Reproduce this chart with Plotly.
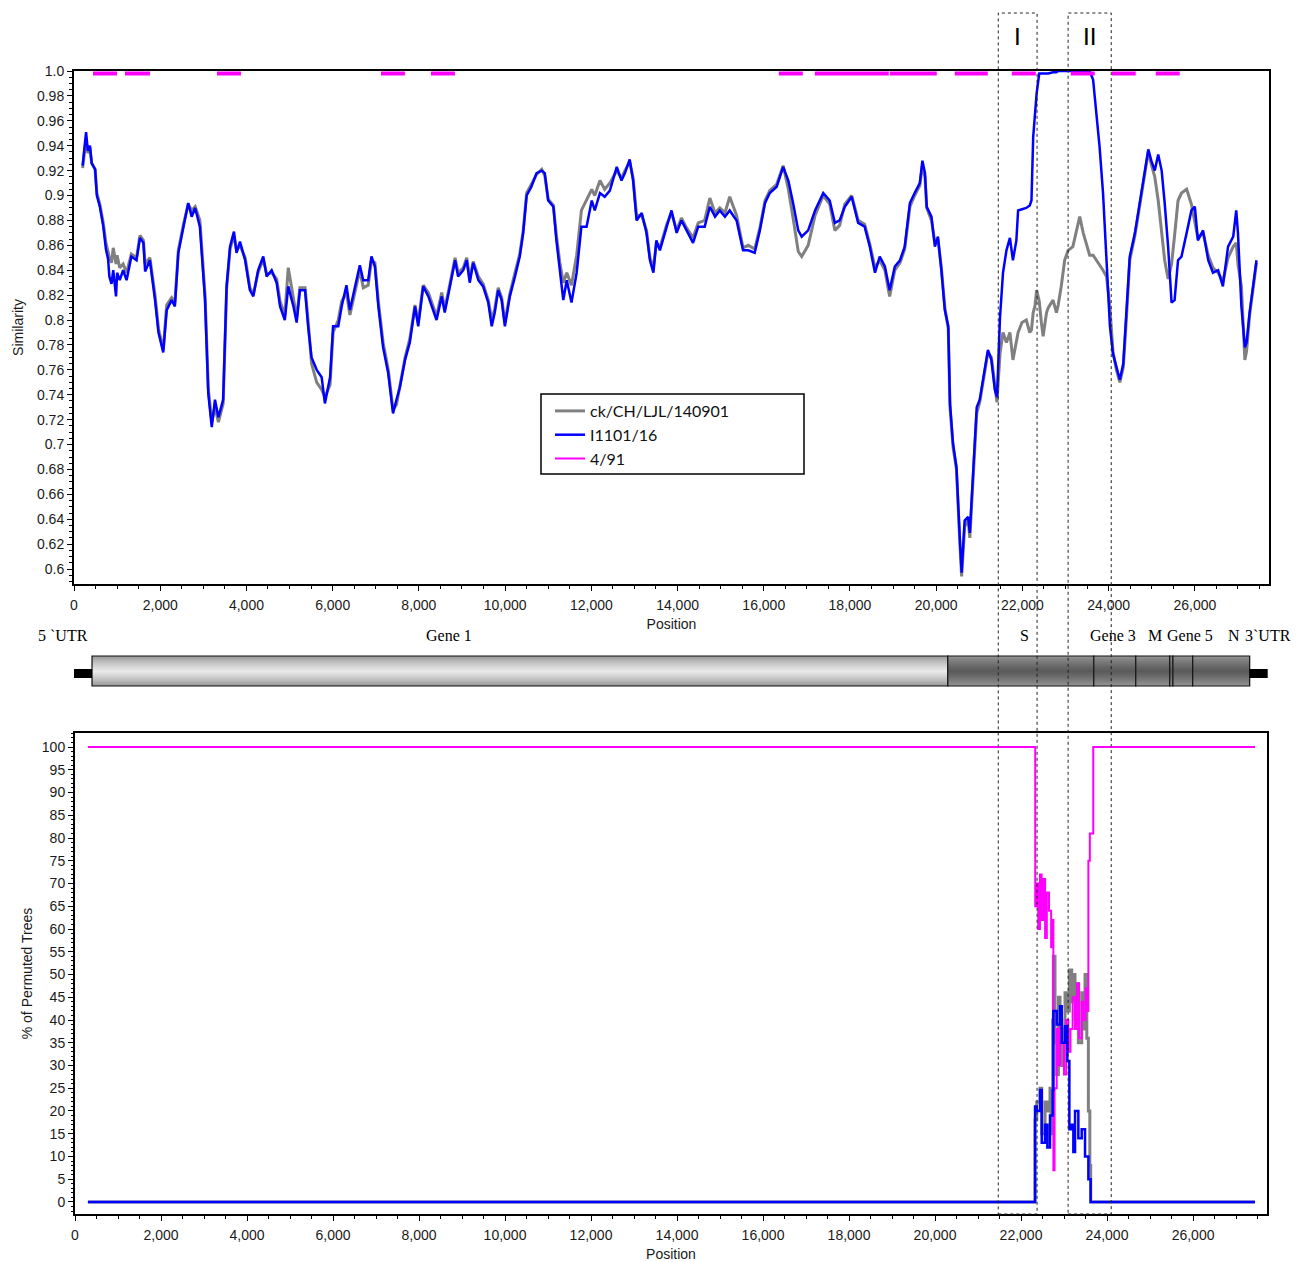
import plotly.graph_objects as go

# ---------------- Similarity plot data ----------------
pos_sim = [
    200, 280, 320, 370, 410, 490, 530, 600, 680, 740,
    790, 820, 870, 910, 975, 1000, 1060, 1140, 1220, 1330,
    1450, 1530, 1610, 1650, 1760, 1880, 1960, 2070, 2150, 2265,
    2340, 2420, 2540, 2650, 2730, 2810, 2920, 3040, 3115, 3195,
    3270, 3350, 3460, 3540, 3620, 3710, 3770, 3850, 3970, 4080,
    4160, 4270, 4390, 4470, 4585, 4700, 4780, 4890, 4970, 5090,
    5165, 5240, 5360, 5430, 5510, 5630, 5745, 5820, 5940, 6010,
    6130, 6210, 6320, 6400, 6520, 6630, 6710, 6825, 6900, 6980,
    7060, 7170, 7290, 7400, 7480, 7560, 7680, 7790, 7910, 7985,
    8100, 8220, 8330, 8410, 8530, 8600, 8720, 8840, 8910, 9030,
    9110, 9180, 9260, 9380, 9490, 9610, 9690, 9760, 9840, 9920,
    9995, 10110, 10230, 10340, 10420, 10500, 10610, 10730, 10850, 10920,
    11000, 11120, 11190, 11270, 11350, 11430, 11540, 11660, 11770, 11890,
    12010, 12080, 12200, 12310, 12430, 12590, 12700, 12780, 12890, 12970,
    13050, 13170, 13280, 13360, 13440, 13510, 13590, 13750, 13860, 13980,
    14090, 14210, 14360, 14480, 14630, 14750, 14870, 14980, 15100, 15210,
    15370, 15450, 15520, 15640, 15790, 15910, 16030, 16140, 16300, 16450,
    16570, 16680, 16800, 16880, 17030, 17190, 17380, 17530, 17650, 17760,
    17880, 18040, 18190, 18340, 18460, 18580, 18690, 18810, 18920, 19040,
    19160, 19270, 19390, 19500, 19620, 19680, 19740, 19780, 19890, 19970,
    20040, 20120, 20200, 20280, 20320, 20390, 20470, 20550, 20590, 20660,
    20740, 20780, 20860, 20940, 21010, 21090, 21200, 21280, 21360, 21410,
    21480, 21550, 21630, 21710, 21780, 21860, 21900, 21990, 22090, 22170,
    22210, 22250, 22290, 22330, 22390, 22440, 22480, 22560, 22600, 22710,
    22790, 22830, 22900, 22980, 23060, 23170, 23270, 23330, 23410, 23520,
    23560, 23640, 23720, 23790, 23870, 23950, 24030, 24100, 24180, 24260,
    24340, 24410, 24490, 24610, 24720, 24840, 24920, 24990, 25070, 25150,
    25230, 25300, 25380, 25460, 25530, 25610, 25690, 25810, 25920, 26000,
    26070, 26190, 26310, 26420, 26540, 26650, 26770, 26890, 26960, 27000,
    27080, 27160, 27200, 27270, 27350, 27430,
]

sim_i1101 = [
    .924, .951, .936, .940, .926, .921, .900, .891, .875, .857,
    .849, .835, .829, .840, .819, .838, .832, .840, .832, .851,
    .848, .866, .862, .839, .848, .816, .790, .774, .808, .816,
    .811, .854, .875, .894, .883, .890, .875, .816, .741, .714,
    .736, .722, .736, .827, .859, .871, .854, .863, .848, .824,
    .819, .840, .851, .835, .840, .830, .811, .800, .827, .811,
    .798, .824, .824, .795, .770, .760, .754, .733, .754, .795,
    .795, .811, .828, .808, .827, .844, .832, .832, .851, .843,
    .811, .778, .757, .725, .736, .746, .768, .782, .811, .795,
    .827, .819, .808, .800, .819, .806, .827, .848, .835, .840,
    .848, .830, .846, .832, .827, .814, .795, .806, .824, .816,
    .795, .819, .835, .851, .870, .900, .907, .918, .920, .918,
    .896, .891, .864, .838, .816, .832, .814, .838, .875, .875,
    .896, .888, .902, .899, .904, .923, .912, .918, .929, .912,
    .880, .886, .870, .848, .838, .864, .856, .875, .888, .870,
    .880, .872, .862, .875, .875, .891, .883, .888, .883, .888,
    .880, .867, .856, .856, .854, .872, .894, .902, .907, .923,
    .912, .894, .872, .867, .872, .888, .902, .896, .878, .880,
    .891, .899, .878, .875, .859, .838, .851, .843, .824, .843,
    .848, .859, .894, .902, .910, .928, .918, .891, .883, .859,
    .867, .840, .808, .795, .733, .701, .682, .623, .597, .639,
    .642, .629, .680, .730, .736, .752, .776, .768, .744, .738,
    .802, .838, .856, .866, .848, .864, .888, .889, .890, .892,
    .896, .947, .965, .982, .998, .998, .998, .998, .998, .999,
    .999, 1.0, 1.0, 1.0, 1.0, 1.0, 1.0, 1.0, 1.0, 1.0,
    1.0, .993, .966, .939, .902, .848, .795, .773, .762, .752,
    .765, .802, .851, .870, .894, .923, .937, .928, .920, .933,
    .920, .894, .859, .814, .816, .848, .851, .870, .888, .891,
    .864, .872, .848, .838, .840, .827, .859, .867, .888, .870,
    .811, .778, .782, .806, .827, .848,
]

sim_ck = [
    .922, .945, .934, .938, .926, .921, .902, .893, .878, .862,
    .855, .850, .846, .858, .845, .852, .842, .845, .838, .853,
    .850, .868, .864, .845, .850, .820, .793, .776, .812, .818,
    .814, .856, .877, .893, .888, .891, .880, .820, .745, .718,
    .730, .718, .733, .825, .857, .868, .856, .860, .850, .826,
    .821, .838, .849, .837, .838, .833, .815, .804, .842, .818,
    .802, .826, .826, .800, .765, .750, .744, .738, .748, .790,
    .800, .815, .822, .804, .822, .840, .826, .828, .848, .846,
    .815, .782, .760, .728, .732, .748, .770, .785, .812, .798,
    .828, .822, .811, .803, .822, .809, .829, .850, .838, .842,
    .850, .833, .847, .835, .829, .816, .800, .809, .826, .818,
    .798, .821, .838, .853, .872, .902, .909, .917, .921, .916,
    .897, .892, .868, .846, .830, .838, .828, .852, .888, .896,
    .905, .900, .912, .905, .910, .920, .914, .920, .927, .914,
    .884, .884, .872, .850, .842, .862, .858, .877, .886, .872,
    .882, .874, .866, .878, .880, .898, .886, .890, .886, .899,
    .884, .870, .858, .860, .857, .874, .896, .904, .909, .924,
    .905, .882, .855, .851, .860, .884, .900, .893, .872, .876,
    .893, .900, .880, .877, .861, .842, .848, .840, .819, .840,
    .846, .857, .891, .900, .908, .924, .915, .890, .880, .862,
    .865, .842, .810, .793, .730, .698, .680, .620, .594, .634,
    .640, .625, .675, .725, .734, .750, .774, .770, .746, .734,
    .773, .790, .782, .790, .768, .784, .790, .798, .800, .790,
    .792, .806, .811, .824, .815, .798, .787, .806, .810, .816,
    .806, .812, .827, .848, .856, .859, .875, .883, .870, .856,
    .852, .852, .848, .845, .840, .835, .810, .775, .760, .750,
    .762, .800, .848, .868, .892, .920, .935, .925, .915, .896,
    .870, .848, .833, .845, .868, .896, .902, .905, .893, .878,
    .866, .870, .852, .842, .838, .831, .850, .859, .862, .845,
    .827, .768, .775, .804, .826, .846,
]

# 4/91 similarity sits on the 1.0 line; visible where it dips just below it
dip_start_491 = [441, 1183, 3316, 7120, 8280, 16350, 17185, 18924, 20431, 21753, 23121, 24072, 25093]
dip_end_491 = [997, 1763, 3873, 7676, 8836, 16906, 18901, 20014, 21197, 22310, 23678, 24629, 25650]
dip_level_491 = 0.998

sim_tick_vals = [0.6, 0.62, 0.64, 0.66, 0.68, 0.7, 0.72, 0.74, 0.76, 0.78, 0.8,
                 0.82, 0.84, 0.86, 0.88, 0.9, 0.92, 0.94, 0.96, 0.98, 1.0]
sim_tick_text = ["0.6", "0.62", "0.64", "0.66", "0.68", "0.7", "0.72", "0.74", "0.76", "0.78", "0.8",
                 "0.82", "0.84", "0.86", "0.88", "0.9", "0.92", "0.94", "0.96", "0.98", "1.0"]

# ---------------- Bootscan data ----------------
boot_pos_491 = [300, 22302, 22330, 22360, 22400, 22440, 22480, 22520, 22560, 22600,
                22650, 22700, 22740, 22752, 22780, 22830, 22870, 22907, 22946, 23000,
                23050, 23100, 23150, 23200, 23256, 23300, 23350, 23411, 23450, 23500,
                23540, 23566, 23600, 23640, 23680, 27440]
boot_491 = [100, 100, 65, 70, 60, 72, 62, 71, 58, 68,
            64, 56, 62, 7, 25, 38, 30, 41, 35, 28,
            40, 33, 38, 45, 38, 48, 36, 44, 40, 47,
            42, 75, 81, 81, 100, 100]

boot_pos_i1101 = [300, 22287, 22326, 22365, 22442, 22481, 22558, 22612, 22674, 22736,
                  22752, 22830, 22907, 22946, 23023, 23077, 23124, 23178, 23217, 23256,
                  23333, 23411, 23488, 23566, 23620, 27440]
boot_i1101 = [0, 0, 21, 20, 24.6, 13, 17, 12, 19, 24.6,
              42, 39, 43, 35, 38.6, 31, 16, 17, 11, 20,
              14, 16, 10, 5, 0, 0]

boot_pos_ck = [300, 22287, 22326, 22365, 22442, 22481, 22558, 22612, 22674, 22700,
               22736, 22752, 22790, 22830, 22870, 22907, 22946, 22990, 23023, 23077,
               23124, 23178, 23217, 23256, 23300, 23333, 23411, 23450, 23488, 23530,
               23566, 23600, 23620, 27440]
boot_ck = [0, 0, 18, 22, 25, 15, 22, 20, 25, 15,
           40, 54, 35, 28, 45, 40, 30, 38, 46, 42,
           51, 44, 50, 40, 48, 35, 46, 38, 50, 36,
           20, 8, 0, 0]

# ---------------- Genome map ----------------
gene_start = [418, 20269, 23655, 24629, 25417, 25490, 25950]
gene_end = [20269, 23655, 24629, 25417, 25490, 25950, 27272]
gene_shade = ["light", "dark", "dark", "dark", "dark", "dark", "dark"]
utr_start = [-139, 27272]
utr_end = [418, 27690]
gene_labels = ["5 `UTR", "Gene 1", "S", "Gene 3", "M", "Gene 5", "N", "3`UTR"]

region_labels = ["I", "II"]
region_start = [21440, 23060]
region_end = [22340, 24060]

# ---------------- layout helpers (pixel -> paper) ----------------
W, H = 1304, 1262
def px(v):
    return v / W
def py(v):
    return 1 - v / H

TICKFONT = dict(family="Liberation Sans, Arial, sans-serif", size=14, color="#1a1a1a")
TITLEFONT = dict(family="Liberation Sans, Arial, sans-serif", size=14, color="#1a1a1a")
XRANGE = [0, 27720]

fig = go.Figure()

# --- top: similarity
fig.add_trace(go.Scatter(x=pos_sim, y=sim_ck, mode="lines", name="ck/CH/LJL/140901",
                         line=dict(color="#808080", width=3), xaxis="x", yaxis="y",
                         showlegend=False))
fig.add_trace(go.Scatter(x=pos_sim, y=sim_i1101, mode="lines", name="I1101/16",
                         line=dict(color="#0000FF", width=2.5), xaxis="x", yaxis="y",
                         showlegend=False))
mx, my = [], []
for s, e in zip(dip_start_491, dip_end_491):
    mx += [s, e, None]
    my += [dip_level_491, dip_level_491, None]
fig.add_trace(go.Scatter(x=mx, y=my, mode="lines", name="4/91", connectgaps=False,
                         line=dict(color="#FF00FF", width=4), xaxis="x", yaxis="y",
                         showlegend=False))

# --- bottom: bootscan
fig.add_trace(go.Scatter(x=boot_pos_ck, y=boot_ck, mode="lines", name="ck/CH/LJL/140901",
                         line=dict(color="#808080", width=3, shape="hv"), xaxis="x2", yaxis="y2",
                         legendrank=1))
fig.add_trace(go.Scatter(x=boot_pos_491, y=boot_491, mode="lines", name="4/91",
                         line=dict(color="#FF00FF", width=2, shape="hv"), xaxis="x2", yaxis="y2",
                         legendrank=3))
fig.add_trace(go.Scatter(x=boot_pos_i1101, y=boot_i1101, mode="lines", name="I1101/16",
                         line=dict(color="#0000FF", width=2.5, shape="hv"), xaxis="x2", yaxis="y2",
                         legendrank=2))

shapes = []
annotations = []

# genome bar with cylindrical shading (nested rectangles, outermost first)
bar_top, bar_bot = py(656), py(686)
bar_mid = (bar_top + bar_bot) / 2
bar_half = (bar_top - bar_bot) / 2
NLEVEL = 14
for s, e, shade in zip(gene_start, gene_end, gene_shade):
    for k in range(NLEVEL):
        frac = 1 - k / NLEVEL
        if shade == "light":
            lum = int(150 + 88 * (1 - frac) ** 0.8)
        else:
            lum = int(150 - 62 * (1 - frac) ** 0.8)
        shapes.append(dict(type="rect", xref="x", yref="paper", x0=s, x1=e,
                           y0=bar_mid - bar_half * frac, y1=bar_mid + bar_half * frac,
                           fillcolor=f"rgb({lum},{lum},{lum})", line=dict(width=0), layer="above"))
    shapes.append(dict(type="rect", xref="x", yref="paper", x0=s, x1=e, y0=bar_bot, y1=bar_top,
                       fillcolor="rgba(0,0,0,0)", line=dict(color="#111111", width=1.2), layer="above"))
for s, e in zip(utr_start, utr_end):
    shapes.append(dict(type="rect", xref="x", yref="paper", x0=s, x1=e, y0=py(678), y1=py(669),
                       fillcolor="black", line=dict(width=0), layer="above"))

label_px = [63, 449, 1024, 1113, 1155, 1190, 1234, 1268]
for lab, xp in zip(gene_labels, label_px):
    annotations.append(dict(text=lab, xref="paper", yref="paper", x=px(xp), y=py(635),
                            xanchor="center", yanchor="middle", showarrow=False,
                            font=dict(family="Liberation Serif, Times New Roman, serif", size=16, color="black")))

# recombination region boxes
for lab, s, e in zip(region_labels, region_start, region_end):
    shapes.append(dict(type="rect", xref="x", yref="paper", x0=s, x1=e, y0=py(1214), y1=py(13),
                       fillcolor="rgba(0,0,0,0)", line=dict(color="#222222", width=1, dash="dot"),
                       layer="above"))
    annotations.append(dict(text=lab, xref="x", yref="paper", x=(s + e) / 2, y=py(36),
                            xanchor="center", yanchor="middle", showarrow=False,
                            font=dict(family="Lato, Liberation Sans, sans-serif", size=24, color="black")))

# legend frame
shapes.append(dict(type="rect", xref="paper", yref="paper", x0=px(541), x1=px(804),
                   y0=py(474), y1=py(394), fillcolor="white",
                   line=dict(color="black", width=1.5), layer="below"))

common_x = dict(range=XRANGE, dtick=2000, tick0=0, tickformat=",d", ticks="outside", ticklen=5,
                tickwidth=1, tickcolor="black", showline=True, linecolor="black", linewidth=2,
                mirror=True, showgrid=False, zeroline=False, automargin=False, tickfont=TICKFONT,
                ticklabelstandoff=2,
                minor=dict(dtick=500, tick0=0, ticks="outside", ticklen=3, tickcolor="black"))

fig.update_layout(
    template="none",
    width=W, height=H,
    margin=dict(l=0, r=0, t=0, b=0),
    paper_bgcolor="white", plot_bgcolor="white",
    font=dict(family="Liberation Sans, Arial, sans-serif", size=14, color="#1a1a1a"),
    xaxis=dict(domain=[px(74), px(1269)], anchor="y",
               title=dict(text="Position", font=TITLEFONT, standoff=7), **common_x),
    yaxis=dict(domain=[py(584), py(71)], anchor="x", range=[0.588, 1.0],
               tickmode="array", tickvals=sim_tick_vals, ticktext=sim_tick_text,
               ticks="outside", ticklen=5, tickcolor="black", showline=True, linecolor="black",
               linewidth=2, mirror=True, showgrid=False, zeroline=False, automargin=False,
               tickfont=TICKFONT,
               minor=dict(tickmode="linear", tick0=0.6, dtick=0.005, ticks="outside", ticklen=3,
                          tickcolor="black"),
               title=dict(text="Similarity", font=TITLEFONT, standoff=10)),
    xaxis2=dict(domain=[px(75), px(1267)], anchor="y2",
                title=dict(text="Position", font=TITLEFONT, standoff=9), **common_x),
    yaxis2=dict(domain=[py(1214), py(733)], anchor="x2", range=[-2.64, 103.08],
                dtick=5, tick0=0, ticks="outside", ticklen=5, tickcolor="black",
                showline=True, linecolor="black", linewidth=2, mirror=True, showgrid=False,
                zeroline=False, automargin=False, tickfont=TICKFONT,
                minor=dict(dtick=1, tick0=0, ticks="outside", ticklen=2, tickcolor="black"),
                title=dict(text="% of Permuted Trees", font=TITLEFONT, standoff=6)),
    legend=dict(x=px(550), y=py(394), xanchor="left", yanchor="top",
                bgcolor="rgba(0,0,0,0)", borderwidth=0, traceorder="normal",
                font=dict(family="Lato, Liberation Sans, sans-serif", size=16, color="#111111"),
                itemwidth=30, tracegroupgap=0),
    shapes=shapes,
    annotations=annotations,
)

# remove the browser's default page margin so the figure sits at the page origin
fig.write_html("out.html", config={"displayModeBar": False},
               post_script="document.body.style.margin='0px';")
